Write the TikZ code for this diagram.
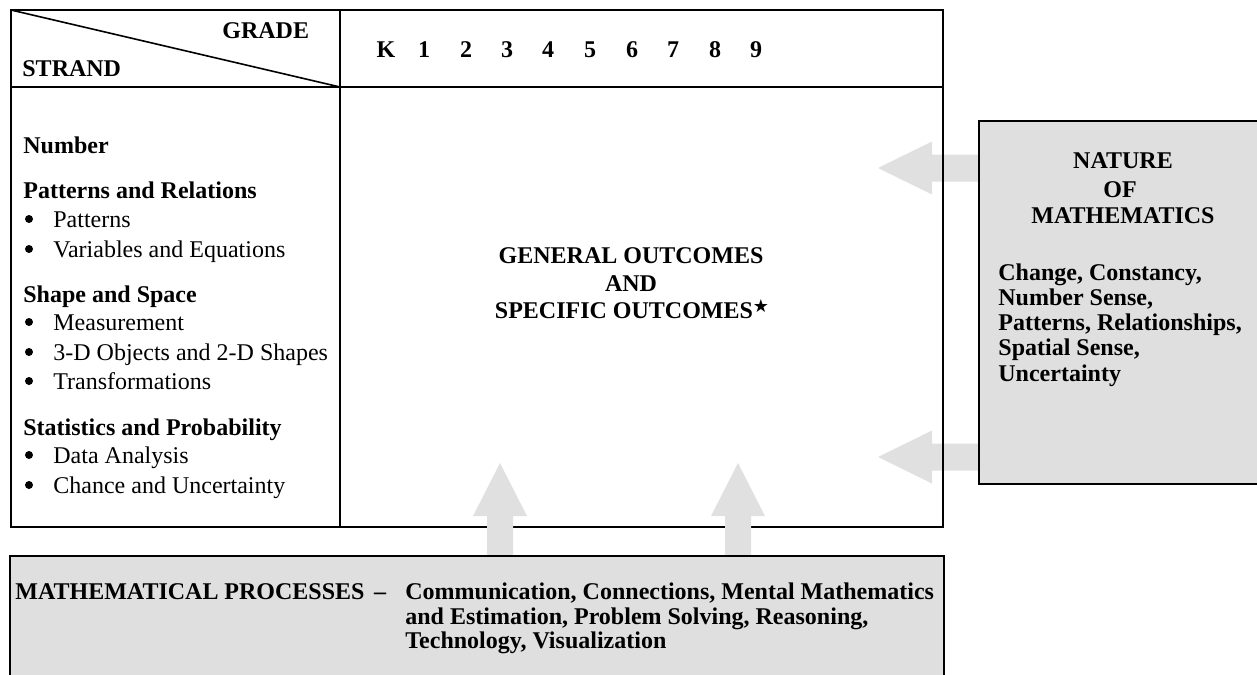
\documentclass[tikz,border=0pt]{standalone}
\usepackage{fontspec}
\setmainfont{Liberation Serif}
\newfontfamily\starfont{DejaVu Sans}
\usetikzlibrary{calc}
\definecolor{boxgray}{HTML}{DFDFDF}
\definecolor{arrowgray}{HTML}{E0E0E0}
\tikzset{
  frame/.style={draw=black, line width=1pt},
  graybox/.style={fill=boxgray, draw=black, line width=1pt},
  arr/.style={fill=arrowgray},
  lbl/.style={inner sep=0pt, font=\fontsize{12}{14}\selectfont\bfseries, anchor=base west},
  lblc/.style={inner sep=0pt, font=\fontsize{12}{14}\selectfont\bfseries, anchor=base},
  itemtxt/.style={inner sep=0pt, font=\fontsize{12}{14}\selectfont, anchor=base west},
  bulletdot/.style={circle, fill=black, inner sep=0pt, minimum size=4pt},
}
\begin{document}
\begin{tikzpicture}[x=0.5pt,y=-0.5pt]
\useasboundingbox (0,0) rectangle (1257,674);
\clip (0,0) rectangle (1257,674);

% arrow anchor points
\coordinate (nA1) at (979,168); \coordinate (tA1) at (878,168);
\coordinate (nA2) at (979,457); \coordinate (tA2) at (878,457);
\coordinate (pA1) at (500,556); \coordinate (uA1) at (500,463);
\coordinate (pA2) at (738,556); \coordinate (uA2) at (738,463);

% left-pointing arrows (under table frame)
\foreach \s/\t in {nA1/tA1, nA2/tA2}{
  \fill[arr] ($(\s)+(0,-13.5)$) -- ($(\t)+(54,-13.5)$) -- ($(\t)+(54,-26.5)$) -- (\t)
    -- ($(\t)+(54,26.5)$) -- ($(\t)+(54,13.5)$) -- ($(\s)+(0,13.5)$) -- cycle;
}

% table frame
\coordinate (tTL) at (11,10); \coordinate (tBR) at (943,527);
\coordinate (hL) at (11,87); \coordinate (hR) at (943,87);
\coordinate (cT) at (340,10); \coordinate (cB) at (340,527);
\draw[frame] (tTL) rectangle (tBR);
\draw[frame] (hL) -- (hR);
\draw[frame] (cT) -- (cB);
\draw[line width=0.8pt] (tTL) -- (cT |- hL);

% up-pointing arrows (over table frame)
\foreach \s/\t in {pA1/uA1, pA2/uA2}{
  \fill[arr] ($(\s)+(-13,0)$) -- ($(\t)+(-13,53)$) -- ($(\t)+(-27,53)$) -- (\t)
    -- ($(\t)+(27,53)$) -- ($(\t)+(13,53)$) -- ($(\s)+(13,0)$) -- cycle;
}

% gray boxes
\draw[graybox] (979,121) rectangle (1300,484);
\draw[graybox] (10,556) rectangle (944,720);

% header
\node[lbl] (grade) at (222,39) {GRADE};
\node[lbl] (strand) at (22,76) {STRAND};
\node[lblc] (gK) at (386,58) {K};
\foreach \n/\x in {1/424,2/466,3/507,4/548,5/590,6/632,7/673,8/715,9/756}{
  \node[lblc] (g\n) at (\x,58) {\n};
}

% strands
\node[lbl] (sNum) at (23,153) {Number};
\node[lbl] (sPat) at (23,198) {Patterns and Relations};
\node[bulletdot] (b1) at (29,219) {}; \node[itemtxt] (i1) at (53,227) {Patterns};
\node[bulletdot] (b2) at (29,249) {}; \node[itemtxt] (i2) at (53,257) {Variables and Equations};
\node[lbl] (sSha) at (23,302) {Shape and Space};
\node[bulletdot] (b3) at (29,322) {}; \node[itemtxt] (i3) at (53,330) {Measurement};
\node[bulletdot] (b4) at (29,352) {}; \node[itemtxt] (i4) at (53,360) {3-D Objects and 2-D Shapes};
\node[bulletdot] (b5) at (29,381) {}; \node[itemtxt] (i5) at (53,389) {Transformations};
\node[lbl] (sSta) at (23,435) {Statistics and Probability};
\node[bulletdot] (b6) at (29,455) {}; \node[itemtxt] (i6) at (53,463) {Data Analysis};
\node[bulletdot] (b7) at (29,485) {}; \node[itemtxt] (i7) at (53,493) {Chance and Uncertainty};

% outcomes
\node[lblc] (go1) at (631,263) {GENERAL OUTCOMES};
\node[lblc] (go2) at (631,291) {AND};
\node[lblc] (go3) at (632,318) {SPECIFIC OUTCOMES\raisebox{2.6pt}{\starfont\fontsize{9}{9}\selectfont ★}};

% nature of mathematics
\node[lblc] (nm1) at (1123,168) {NATURE};
\node[lblc] (nm2) at (1120,197) {OF};
\node[lblc] (nm3) at (1123,223) {MATHEMATICS};
\node[lbl] (nc1) at (998,280) {Change, Constancy,};
\node[lbl] (nc2) at (998,305) {Number Sense,};
\node[lbl] (nc3) at (998,330) {Patterns, Relationships,};
\node[lbl] (nc4) at (998,355) {Spatial Sense,};
\node[lbl] (nc5) at (998,381) {Uncertainty};

% processes
\node[lbl] (mp) at (15,599) {MATHEMATICAL PROCESSES};
\node[lblc] (mpd) at (380,599) {--};
\node[lbl] (mp1) at (405,599) {Communication, Connections, Mental Mathematics};
\node[lbl] (mp2) at (405,624) {and Estimation, Problem Solving, Reasoning,};
\node[lbl] (mp3) at (405,648) {Technology, Visualization};
\end{tikzpicture}
\end{document}
